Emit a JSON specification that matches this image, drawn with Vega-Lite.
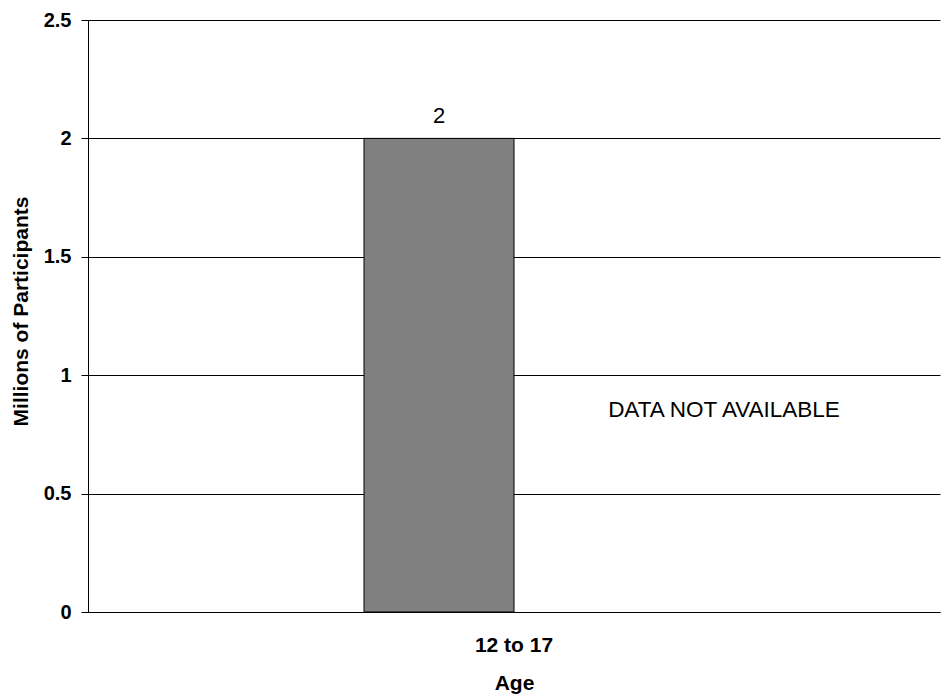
{
  "$schema": "https://vega.github.io/schema/vega-lite/v6.json",
  "width": 852,
  "height": 592,
  "autosize": {"type": "none"},
  "padding": {"left": 88, "top": 20, "right": 3, "bottom": 82},
  "background": "white",
  "config": {
    "view": {"stroke": null},
    "font": "Liberation Sans"
  },
  "data": {
    "values": [
      {"age": "12 to 17", "series": "s1", "participants": 2, "label": "2"},
      {"age": "12 to 17", "series": "s2", "participants": null, "label": null}
    ]
  },
  "encoding": {
    "x": {
      "field": "age",
      "type": "nominal",
      "title": "Age",
      "scale": {"domain": ["12 to 17"], "paddingOuter": 0.92, "paddingInner": 0},
      "axis": {
        "labelAngle": 0,
        "ticks": false,
        "grid": false,
        "domainColor": "black",
        "domainWidth": 1,
        "labelFont": "Liberation Sans",
        "labelFontSize": 21,
        "labelFontWeight": "bold",
        "labelColor": "black",
        "labelBaseline": "alphabetic",
        "labelPadding": 39,
        "titleFont": "Liberation Sans",
        "titleFontSize": 21,
        "titleFontWeight": "bold",
        "titleColor": "black",
        "titleBaseline": "alphabetic",
        "titleY": 77
      }
    },
    "xOffset": {
      "field": "series",
      "type": "nominal",
      "scale": {"domain": ["s1", "s2"], "paddingInner": 0, "paddingOuter": 0}
    }
  },
  "layer": [
    {
      "mark": {"type": "bar", "fill": "#808080", "stroke": "black", "strokeWidth": 1},
      "encoding": {
        "y": {
          "field": "participants",
          "type": "quantitative",
          "title": "Millions of Participants",
          "scale": {"domain": [0, 2.5], "nice": false},
          "axis": {
            "values": [0, 0.5, 1, 1.5, 2, 2.5],
            "format": "~g",
            "grid": true,
            "gridColor": "black",
            "gridWidth": 1,
            "gridOpacity": 1,
            "domainColor": "black",
            "domainWidth": 1,
            "tickColor": "black",
            "tickSize": 7,
            "labelPadding": 10,
            "labelFont": "Liberation Sans",
            "labelFontSize": 20,
            "labelFontWeight": "bold",
            "labelColor": "black",
            "titleFont": "Liberation Sans",
            "titleFontSize": 21,
            "titleFontWeight": "bold",
            "titleColor": "black",
            "titleX": -67,
            "titleY": 291,
            "titleAlign": "center",
            "titleBaseline": "middle",
            "titleAngle": -90
          }
        }
      }
    },
    {
      "mark": {"type": "text", "baseline": "alphabetic", "dy": -15, "fontSize": 22, "font": "Liberation Sans", "color": "black"},
      "encoding": {
        "y": {"field": "participants", "type": "quantitative"},
        "text": {"field": "label", "type": "nominal"}
      }
    },
    {
      "data": {
        "values": [
          {"age": "12 to 17", "series": "s2", "note": "DATA NOT AVAILABLE", "pos": 0.823}
        ]
      },
      "mark": {"type": "text", "baseline": "alphabetic", "align": "center", "dx": 135, "fontSize": 22.5, "font": "Liberation Sans", "color": "black"},
      "encoding": {
        "y": {"field": "pos", "type": "quantitative"},
        "text": {"field": "note", "type": "nominal"}
      }
    }
  ]
}
